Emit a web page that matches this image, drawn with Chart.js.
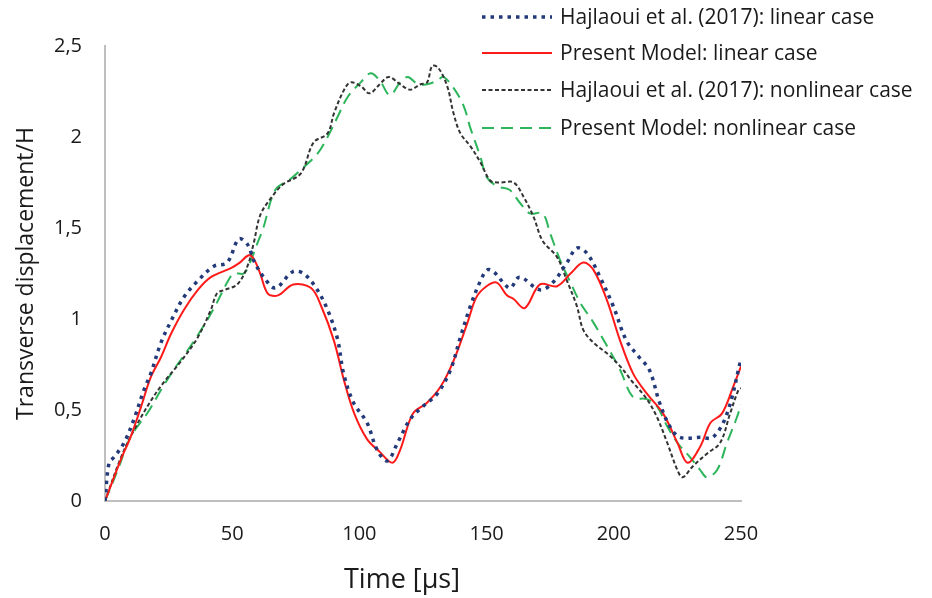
<!DOCTYPE html>
<html>
<head>
<meta charset="utf-8">
<script src="https://cdn.jsdelivr.net/npm/chart.js@4.4.1/dist/chart.umd.min.js"></script>
<style>
  html, body { margin: 0; padding: 0; background: #fff; }
  #wrap { width: 932px; height: 598px; }
</style>
</head>
<body>
<div id="wrap"><canvas id="myChart" width="932" height="598"></canvas></div>
<script>
// time [µs] and transverse displacement/H
const tHajLin = [0, 1.6, 3.5, 7.5, 11.4, 15.3, 18, 22, 26, 31, 36.5, 42.8, 48, 52.6, 56, 58.5, 62.4, 67, 73.8, 78, 83, 87.5, 91.4, 93.8, 97.7, 103, 107, 111, 115, 120, 125, 130.6, 135.8, 139.7, 143.6, 147.6, 150.3, 152.7, 156.6, 159.3, 163, 171, 176, 181.6, 185.5, 189.5, 194.6, 199.8, 205, 210, 214, 218, 222, 226, 234, 239, 244.5, 250];
const yHajLin = [0, 0.21, 0.24, 0.32, 0.45, 0.61, 0.70, 0.87, 0.99, 1.12, 1.21, 1.29, 1.31, 1.44, 1.41, 1.32, 1.23, 1.17, 1.26, 1.25, 1.17, 1.05, 0.89, 0.70, 0.54, 0.43, 0.28, 0.22, 0.32, 0.45, 0.52, 0.59, 0.72, 0.90, 1.07, 1.21, 1.27, 1.26, 1.20, 1.17, 1.23, 1.16, 1.20, 1.31, 1.39, 1.36, 1.23, 1.07, 0.88, 0.79, 0.72, 0.54, 0.41, 0.35, 0.35, 0.35, 0.48, 0.78];

const tPresLin = [0, 6.3, 10, 14, 18, 22, 26, 31, 36.5, 41.6, 49.5, 53, 56.5, 58.5, 61, 64, 68, 74, 81, 85, 90, 94, 98, 103, 108, 113, 116, 121, 126.6, 132, 137, 142.5, 146, 150, 154, 158, 160.6, 165, 171, 177.7, 183, 188, 192, 197.4, 202.5, 207.6, 213, 219.4, 225, 229, 234, 238, 242.5, 247, 250];
const yPresLin = [0, 0.23, 0.35, 0.51, 0.68, 0.79, 0.92, 1.05, 1.16, 1.23, 1.28, 1.31, 1.35, 1.33, 1.25, 1.14, 1.13, 1.19, 1.17, 1.07, 0.88, 0.66, 0.48, 0.34, 0.27, 0.21, 0.28, 0.48, 0.54, 0.63, 0.77, 0.98, 1.12, 1.18, 1.20, 1.13, 1.11, 1.06, 1.19, 1.18, 1.25, 1.31, 1.27, 1.10, 0.88, 0.70, 0.59, 0.48, 0.32, 0.21, 0.30, 0.43, 0.48, 0.63, 0.74];

const tHajNonlin = [0, 6.3, 11.4, 18, 23, 30, 36.5, 41.6, 44, 47, 52, 56, 58.5, 61, 65, 70, 77, 82, 87.5, 90, 94, 96.5, 100.5, 104, 108, 111.5, 116, 120, 124, 126.6, 128.6, 131, 134.5, 137, 139.7, 143.6, 147.6, 151.5, 155.4, 160.6, 164.6, 168.5, 172, 177.7, 181.6, 185.5, 188, 192, 197.4, 202.5, 207.6, 213, 217, 221, 225, 227, 231, 236.6, 241.8, 245.7, 249, 250];
const yHajNonlin = [0, 0.24, 0.39, 0.55, 0.65, 0.77, 0.90, 1.05, 1.14, 1.16, 1.19, 1.29, 1.42, 1.57, 1.66, 1.74, 1.80, 1.97, 2.02, 2.13, 2.26, 2.30, 2.28, 2.24, 2.29, 2.33, 2.29, 2.26, 2.29, 2.30, 2.39, 2.38, 2.28, 2.13, 2.02, 1.95, 1.86, 1.76, 1.75, 1.75, 1.67, 1.56, 1.43, 1.34, 1.21, 1.07, 0.94, 0.87, 0.81, 0.74, 0.65, 0.56, 0.46, 0.32, 0.17, 0.13, 0.19, 0.26, 0.32, 0.48, 0.61, 0.62];

const tPresNonlin = [0, 5, 10, 17, 22, 27, 33.6, 40, 44, 48, 50.6, 54.5, 57, 60, 62, 67, 73, 77, 83.6, 87.5, 91.4, 95.4, 100.5, 104.4, 108, 112, 116, 119, 123, 126.6, 130.6, 133, 137, 141, 143.6, 147.6, 150, 154, 159, 163, 167, 172, 175, 179, 183, 186.8, 192, 197.4, 202.5, 207.6, 213, 217, 221, 225, 230, 234, 236.6, 240.6, 244.5, 248.4, 250];
const yPresNonlin = [0, 0.17, 0.35, 0.49, 0.61, 0.72, 0.85, 0.99, 1.09, 1.20, 1.25, 1.25, 1.31, 1.42, 1.49, 1.71, 1.77, 1.82, 1.91, 2.00, 2.11, 2.22, 2.30, 2.35, 2.31, 2.23, 2.30, 2.33, 2.29, 2.29, 2.31, 2.33, 2.27, 2.17, 2.05, 1.89, 1.78, 1.73, 1.71, 1.64, 1.58, 1.58, 1.47, 1.32, 1.20, 1.09, 0.98, 0.85, 0.72, 0.57, 0.56, 0.52, 0.41, 0.32, 0.24, 0.17, 0.13, 0.17, 0.32, 0.46, 0.53];

const seriesNames = [
  "Hajlaoui et al. (2017): linear case",
  "Present Model: linear case",
  "Hajlaoui et al. (2017): nonlinear case",
  "Present Model: nonlinear case",
];
const xTitle = "Time [µs]";
const yTitle = "Transverse displacement/H";

const FONT = "'Open Sans', sans-serif";
const TEXT = "#1a1a1a";

function pts(ts, ys) {
  return ts.map((t, i) => ({ x: t, y: ys[i] }));
}

// legend drawn by hand (it sits over the top right of the plot),
// plus the x title, which is centred on the page rather than the plot
const extrasPlugin = {
  id: "extras",
  afterDraw(chart) {
    const ctx = chart.ctx;
    const rows = [17, 53, 90, 128];
    ctx.save();
    chart.data.datasets.forEach((ds, i) => {
      const y = rows[i];
      ctx.beginPath();
      ctx.setLineDash(ds.borderDash || []);
      ctx.lineWidth = ds.borderWidth;
      ctx.strokeStyle = ds.borderColor;
      ctx.moveTo(482, y);
      ctx.lineTo(552, y);
      ctx.stroke();
      ctx.setLineDash([]);
      ctx.fillStyle = TEXT;
      ctx.font = "21px " + FONT;
      ctx.textBaseline = "middle";
      ctx.textAlign = "left";
      ctx.fillText(ds.label, 560, y + 1);
    });
    ctx.font = "27px " + FONT;
    ctx.textAlign = "center";
    ctx.textBaseline = "middle";
    ctx.fillStyle = TEXT;
    ctx.fillText(xTitle, 402, 580);
    ctx.restore();
  },
};

const config = {
  type: "line",
  data: {
    datasets: [
      {
        label: seriesNames[0],
        data: pts(tHajLin, yHajLin),
        borderColor: "#22397a",
        borderWidth: 3.5,
        borderDash: [3.5, 5],
      },
      {
        label: seriesNames[1],
        data: pts(tPresLin, yPresLin),
        borderColor: "#ff1a1a",
        borderWidth: 2,
      },
      {
        label: seriesNames[2],
        data: pts(tHajNonlin, yHajNonlin),
        borderColor: "#333333",
        borderWidth: 2,
        borderDash: [4, 2.5],
      },
      {
        label: seriesNames[3],
        data: pts(tPresNonlin, yPresNonlin),
        borderColor: "#2cb55a",
        borderWidth: 2,
        borderDash: [12, 7],
      },
    ],
  },
  options: {
    responsive: false,
    animation: false,
    layout: { padding: { top: 46, right: 191, left: 0, bottom: 0 } },
    elements: {
      point: { radius: 0 },
      line: { tension: 0.35, fill: false },
    },
    plugins: {
      legend: { display: false },
      tooltip: { enabled: false },
    },
    scales: {
      x: {
        type: "linear",
        min: 0,
        max: 250,
        afterFit: (s) => { s.height = 97; },
        grid: { display: false, drawTicks: false },
        border: { display: true, color: "#bfbfbf", width: 2 },
        ticks: {
          stepSize: 50,
          padding: 21,
          color: TEXT,
          font: { family: FONT, size: 20 },
        },
      },
      y: {
        min: 0,
        max: 2.5,
        afterFit: (s) => { s.width = 105; },
        grid: { display: false, drawTicks: false },
        border: { display: true, color: "#bfbfbf", width: 2 },
        ticks: {
          stepSize: 0.5,
          padding: 23,
          color: TEXT,
          font: { family: FONT, size: 20 },
          callback: (v) => String(v).replace(".", ","),
        },
        title: {
          display: true,
          text: yTitle,
          color: TEXT,
          padding: { top: 13, bottom: 0 },
          font: { family: FONT, size: 23 },
        },
      },
    },
  },
  plugins: [extrasPlugin],
};

const myChart = new Chart(document.getElementById("myChart"), config);
</script>
</body>
</html>
